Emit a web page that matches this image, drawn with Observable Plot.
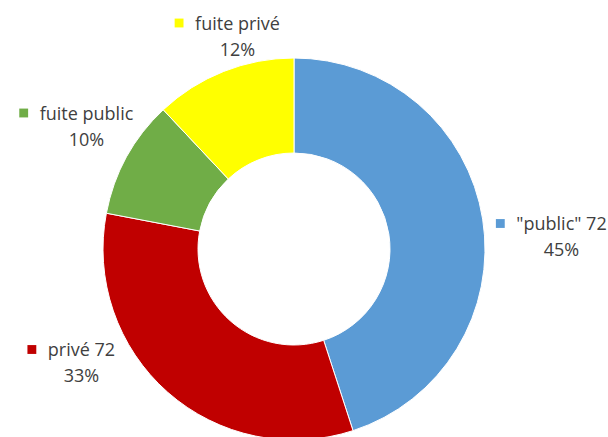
<!DOCTYPE html>
<html>
<head>
<meta charset="utf-8">
<script src="https://cdn.jsdelivr.net/npm/d3@7"></script>
<script src="https://cdn.jsdelivr.net/npm/@observablehq/plot@0.6"></script>
<style>
  html, body { margin: 0; padding: 0; background: #fff; }
  #chart svg { display: block; }
</style>
</head>
<body>
<div id="chart"></div>
<script>
// ---- data ----
const categories = ['"public" 72', 'privé 72', 'fuite public', 'fuite privé'];
const values = [45, 33, 10, 12];
const colors = ['#5B9BD5', '#C00000', '#70AD47', '#FFFF00'];

// ---- layout (pixels) ----
const W = 608, H = 437;
const center = {x: 294, y: 249};
const outerR = 191, innerR = 96;
// label block centres relative to the pie centre (Excel "best fit" placement)
const labelLayout = [
  {dx: 267, dy: -12.5},
  {dx: -213, dy: 113.5},
  {dx: -208, dy: -123},
  {dx: -57, dy: -213}
];
const fontSize = 18;
const fontFamily = "'Open Sans', sans-serif";
const textColor = "#404040";

const total = d3.sum(values);
const pie = d3.pie().sort(null).value(d => d.value);
const rows = categories.map((c, i) => ({name: c, value: values[i], color: colors[i]}));
const arcs = pie(rows);

const ctx = document.createElement("canvas").getContext("2d");
ctx.font = `${fontSize}px ${fontFamily}`;

const labels = rows.map((d, i) => {
  const lx = center.x + labelLayout[i].dx;
  const ly = center.y + labelLayout[i].dy;
  const w = ctx.measureText(d.name).width;
  return {
    ...d,
    pct: Math.round(d.value / total * 100) + "%",
    x: lx,
    y1: ly - 7,
    y2: ly + 19,
    sx: lx - w / 2 - 16,
    sy: ly - 13.5
  };
});

function donut(index, scales) {
  const g = d3.create("svg:g")
    .attr("transform", `translate(${scales.x(center.x)},${scales.y(center.y)})`);
  const rScale = scales.x(outerR) - scales.x(0);
  const irScale = scales.x(innerR) - scales.x(0);
  const arc = d3.arc().innerRadius(irScale).outerRadius(rScale);
  g.selectAll("path")
    .data(arcs)
    .join("path")
    .attr("d", arc)
    .attr("fill", d => d.data.color)
    .attr("stroke", "#fff")
    .attr("stroke-width", 1);
  return g.node();
}

const chart = Plot.plot({
  width: W,
  height: H,
  margin: 0,
  x: {domain: [0, W], range: [0, W], axis: null},
  y: {domain: [0, H], range: [0, H], axis: null},
  style: {fontFamily, fontSize: fontSize + "px", background: "#fff"},
  marks: [
    donut,
    Plot.dot(labels, {x: "sx", y: "sy", symbol: "square", r: 5, fill: "color", stroke: null}),
    Plot.text(labels, {x: "x", y: "y1", text: "name", textAnchor: "middle", lineAnchor: "bottom", fill: textColor, fontSize}),
    Plot.text(labels, {x: "x", y: "y2", text: "pct", textAnchor: "middle", lineAnchor: "bottom", fill: textColor, fontSize})
  ]
});
document.getElementById("chart").appendChild(chart);
</script>
</body>
</html>
